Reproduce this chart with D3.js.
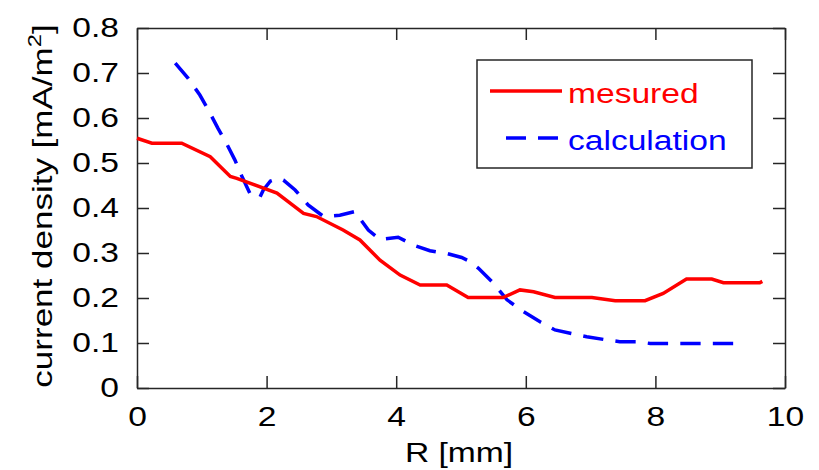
<!DOCTYPE html>
<html>
<head>
<meta charset="utf-8">
<script src="https://cdn.jsdelivr.net/npm/d3@7"></script>
<style>
  body { margin: 0; background: #fff; }
  svg text { font-family: "Liberation Sans", Arial, sans-serif; }
</style>
</head>
<body>
<script>
(function (d3) {
  "use strict";

  /***** Data *****/
  var measuredR = [0, 0.23, 0.69, 1.13, 1.44, 1.54, 2.16, 2.57, 2.77, 3.18, 3.44, 3.75, 4.06, 4.37, 4.78, 5.11, 5.65, 5.91, 6.12, 6.45, 7.02, 7.38, 7.84, 8.12, 8.48, 8.87, 9.05, 9.61, 9.65];
  var measuredJ = [0.555, 0.544, 0.544, 0.514, 0.470, 0.466, 0.433, 0.388, 0.381, 0.351, 0.329, 0.284, 0.251, 0.229, 0.229, 0.201, 0.201, 0.218, 0.214, 0.201, 0.201, 0.194, 0.194, 0.210, 0.242, 0.242, 0.234, 0.234, 0.237];

  var calcR = [0.59, 0.79, 0.97, 1.10, 1.25, 1.38, 1.51, 1.62, 1.74, 1.80, 1.90, 1.95, 2.06, 2.18, 2.26, 2.44, 2.64, 2.88, 3.13, 3.36, 3.57, 3.75, 4.03, 4.26, 4.52, 4.78, 5.01, 5.14, 5.27, 5.50, 5.71, 5.96, 6.22, 6.45, 6.71, 6.94, 7.20, 7.45, 7.71, 7.92, 9.20];
  var calcJ = [0.722, 0.688, 0.651, 0.618, 0.577, 0.544, 0.507, 0.470, 0.433, 0.424, 0.425, 0.440, 0.460, 0.466, 0.462, 0.440, 0.407, 0.381, 0.384, 0.392, 0.351, 0.330, 0.335, 0.318, 0.305, 0.299, 0.290, 0.281, 0.266, 0.233, 0.196, 0.170, 0.147, 0.129, 0.121, 0.114, 0.108, 0.103, 0.103, 0.099, 0.099];

  var xTicks = [0, 2, 4, 6, 8, 10];
  var yTicks = [0, 0.1, 0.2, 0.3, 0.4, 0.5, 0.6, 0.7, 0.8];
  var legendLabels = ["mesured", "calculation"];

  /***** Configuration *****/
  var width = 819, height = 470;
  var margin = { top: 28, right: 34, bottom: 82, left: 137 };
  var plotW = width - margin.left - margin.right;
  var plotH = height - margin.top - margin.bottom;
  var red = "#ff0000", blue = "#0000ff", ink = "#262626";
  var stretchX = 1.2;   // reference text is wider than Liberation Sans
  var dashOn = 20, dashOff = 12;
  var dash = dashOn + "," + dashOff;

  var xScale = d3.scaleLinear().domain([0, 10]).range([0, plotW]);
  var yScale = d3.scaleLinear().domain([0, 0.8]).range([plotH, 0]);

  // widen a text horizontally around its own anchor point
  function stretch(sel, sx) {
    sx = sx || stretchX;
    sel.each(function () {
      var t = d3.select(this);
      var x = +t.attr("x") || 0, y = +t.attr("y") || 0;
      t.attr("transform", "translate(" + x + "," + y + ") scale(" + sx + ",1) translate(" + (-x) + "," + (-y) + ")");
    });
  }

  var svg = d3.select("body").append("svg")
      .attr("width", width)
      .attr("height", height);

  var g = svg.append("g")
      .attr("transform", "translate(" + margin.left + "," + margin.top + ")");

  /***** Axes *****/
  var tickLen = 12;
  var xAxis = d3.axisBottom(xScale).tickValues(xTicks).tickSizeInner(-tickLen).tickSizeOuter(0).tickPadding(18).tickFormat(d3.format("d"));
  var yAxis = d3.axisLeft(yScale).tickValues(yTicks).tickSizeInner(-tickLen).tickSizeOuter(0).tickPadding(18).tickFormat(function (d) { return d === 0 ? "0" : d3.format(".1f")(d); });
  var xTop = d3.axisTop(xScale).tickValues(xTicks).tickSizeInner(-tickLen).tickSizeOuter(0).tickFormat("");
  var yRight = d3.axisRight(yScale).tickValues(yTicks).tickSizeInner(-tickLen).tickSizeOuter(0).tickFormat("");

  function styleAxis(sel) {
    sel.selectAll("path").attr("stroke", ink).attr("stroke-width", 1.5);
    sel.selectAll("line").attr("stroke", ink).attr("stroke-width", 1.5);
    sel.selectAll("text").attr("fill", "#000").style("font-size", "28px").call(stretch);
  }

  g.append("g").attr("transform", "translate(0," + plotH + ")").call(xAxis).call(styleAxis);
  g.append("g").call(yAxis).call(styleAxis);
  g.append("g").call(xTop).call(styleAxis);
  g.append("g").attr("transform", "translate(" + plotW + ",0)").call(yRight).call(styleAxis);

  /***** Lines *****/
  var line = d3.line()
      .x(function (d) { return xScale(d[0]); })
      .y(function (d) { return yScale(d[1]); });

  var measured = d3.zip(measuredR, measuredJ);
  var calc = d3.zip(calcR, calcJ);

  var calcPath = g.append("path").datum(calc)
      .attr("d", line)
      .attr("fill", "none")
      .attr("stroke", blue)
      .attr("stroke-width", 3.5);
  // stretch the dash pattern a little so it starts and ends on a dash
  var len = calcPath.node().getTotalLength();
  var nDash = Math.round((len - dashOn) / (dashOn + dashOff));
  var k = len / (nDash * (dashOn + dashOff) + dashOn);
  calcPath.attr("stroke-dasharray", (dashOn * k) + "," + (dashOff * k));

  g.append("path").datum(measured)
      .attr("d", line)
      .attr("fill", "none")
      .attr("stroke", red)
      .attr("stroke-width", 3.5);

  /***** Axis titles *****/
  svg.append("text")
      .attr("x", margin.left + plotW / 2 - 2)
      .attr("y", 462)
      .attr("text-anchor", "middle")
      .style("font-size", "28px")
      .text("R [mm]")
      .call(stretch);

  var yTitle = svg.append("g")
      .attr("transform", "translate(52," + (margin.top + plotH / 2 - 2) + ") rotate(-90)")
      .append("text")
      .attr("x", 0).attr("y", 0)
      .attr("text-anchor", "middle")
      .style("font-size", "28px");
  yTitle.append("tspan").text("current density [mA/m");
  yTitle.append("tspan").attr("dy", -11).style("font-size", "19px").text("2");
  yTitle.append("tspan").attr("dy", 11).text("]");
  yTitle.call(stretch, 1.25);

  /***** Legend *****/
  var legend = svg.append("g").attr("transform", "translate(477,60)");
  legend.append("rect")
      .attr("width", 275).attr("height", 108)
      .attr("fill", "#fff").attr("stroke", ink).attr("stroke-width", 1.5);

  var legendColors = [red, blue];
  var legendDash = [null, dash];
  var legendStart = [13, 29];
  legendLabels.forEach(function (label, i) {
    var y = 31 + i * 47;
    legend.append("line")
        .attr("x1", legendStart[i]).attr("x2", 85).attr("y1", y).attr("y2", y)
        .attr("stroke", legendColors[i]).attr("stroke-width", 3.5)
        .attr("stroke-dasharray", legendDash[i]);
    legend.append("text")
        .attr("x", 91).attr("y", y + 12)
        .attr("fill", legendColors[i])
        .style("font-size", "28px")
        .text(label)
        .call(stretch);
  });

})(d3);
</script>
</body>
</html>
